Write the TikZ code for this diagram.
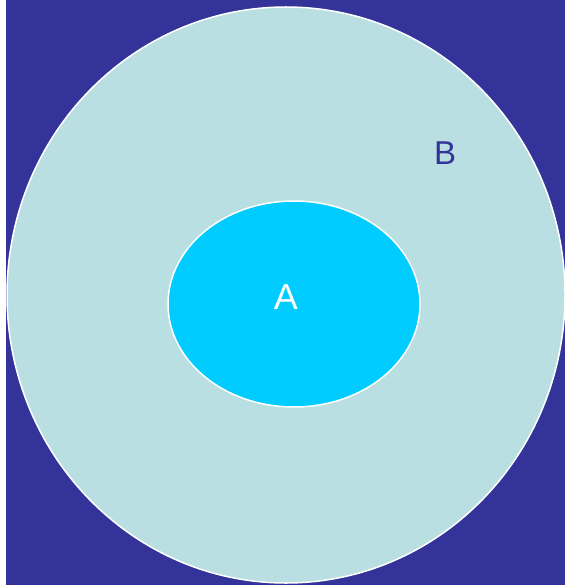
\documentclass[tikz,border=0pt]{standalone}
\usepackage{fontspec}
\setmainfont{Liberation Sans}
\definecolor{bgblue}{HTML}{333399}
\definecolor{outerfill}{HTML}{B9DFE3}
\definecolor{innerfill}{HTML}{00CCFF}
\begin{document}
\begin{tikzpicture}[x=1pt,y=-1pt,
  setline/.style={draw=white,line width=1.5pt}]
\useasboundingbox (0,0) rectangle (565,585);
\fill[white] (0,0) rectangle (565,585);
\fill[bgblue] (6,0) rectangle (565,585);
\path[setline,fill=outerfill] (286,295) ellipse [x radius=279,y radius=288];
\path[setline,fill=innerfill] (294,304) ellipse [x radius=126,y radius=103];
\node[text=white,font=\fontsize{36}{40}\selectfont,inner sep=0] (a) at (286,297) {A};
\node[text=bgblue,font=\fontsize{33}{38}\selectfont,inner sep=0] (b) at (445,153) {B};
\end{tikzpicture}
\end{document}
